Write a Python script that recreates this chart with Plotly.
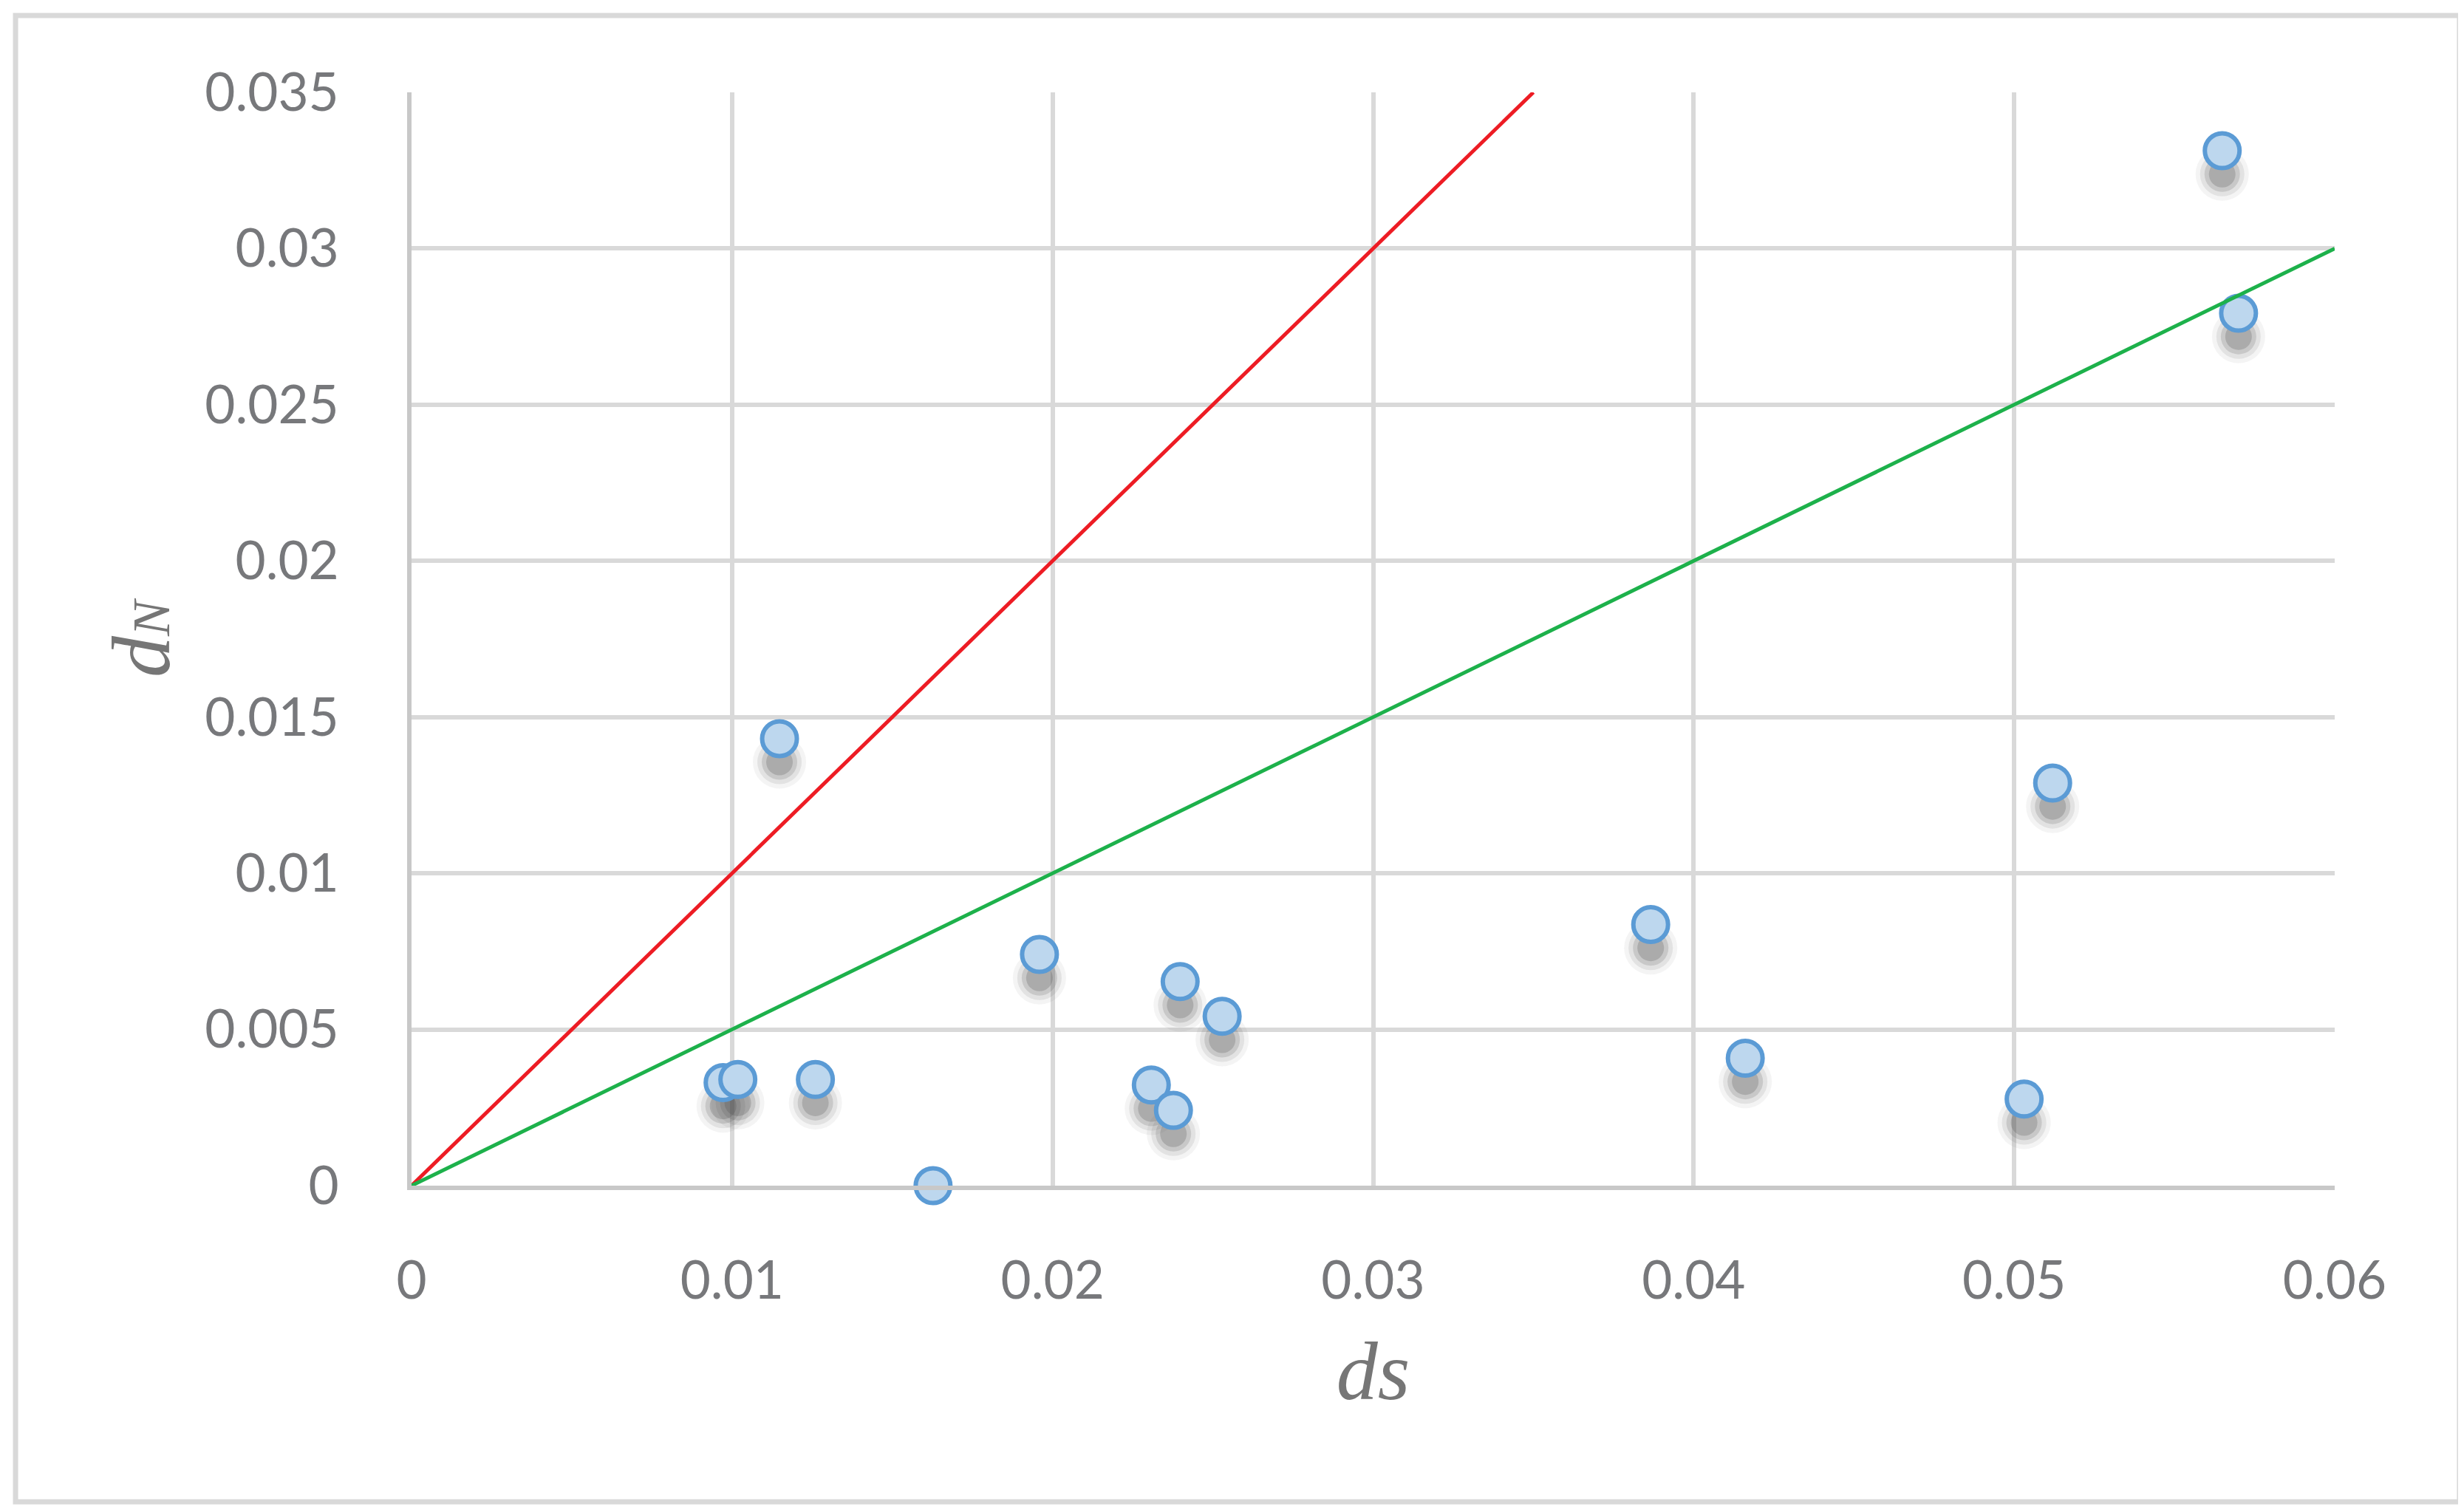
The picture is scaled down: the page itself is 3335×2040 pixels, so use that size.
import plotly.graph_objects as go

# dS / dN pairs
ds = [0.00972, 0.01018, 0.01148, 0.0126, 0.01627, 0.01959, 0.02308, 0.02377,
      0.02398, 0.02529, 0.03866, 0.04161, 0.05031, 0.0512, 0.05649, 0.0570]
dn = [0.0033, 0.0034, 0.01431, 0.0034, 0.0, 0.0074, 0.00322, 0.00241,
      0.00653, 0.00542, 0.00836, 0.00408, 0.00277, 0.01289, 0.03313, 0.02793]

# reference lines: dN/dS = 1 (red) and dN/dS = 0.5 (green)
red_x = [0, 0.035]
red_y = [0, 0.035]
green_x = [0, 0.06]
green_y = [0, 0.03]

x_ticks = [0, 0.01, 0.02, 0.03, 0.04, 0.05, 0.06]
x_labels = ["0", "0.01", "0.02", "0.03", "0.04", "0.05", "0.06"]
y_ticks = [0, 0.005, 0.01, 0.015, 0.02, 0.025, 0.03, 0.035]
y_labels = ["0", "0.005", "0.01", "0.015", "0.02", "0.025", "0.03", "0.035"]

tick_color = "#77787b"
grid = "#d9d9d9"
shadow_dy = 0.00075  # drop shadow offset, in data units

fig = go.Figure()

# soft drop shadow under each marker (stacked to fake a blur)
for sz, op in [(72, 0.06), (60, 0.1), (48, 0.16), (36, 0.22)]:
    fig.add_trace(go.Scatter(
        x=ds, y=[v - shadow_dy for v in dn], mode="markers",
        marker=dict(size=sz, color="#444444", opacity=op, line=dict(width=0)),
        cliponaxis=False, hoverinfo="skip", showlegend=False))

fig.add_trace(go.Scatter(
    x=ds, y=dn, mode="markers",
    marker=dict(size=47, color="#bdd7ee", opacity=1,
                line=dict(color="#5b9bd5", width=6)),
    cliponaxis=False, showlegend=False))

fig.add_trace(go.Scatter(x=red_x, y=red_y, mode="lines",
                         line=dict(color="#ed1c24", width=5), showlegend=False))
fig.add_trace(go.Scatter(x=green_x, y=green_y, mode="lines",
                         line=dict(color="#1db14b", width=5), showlegend=False))

fig.update_xaxes(
    range=[0, 0.06], tickvals=x_ticks, ticktext=x_labels,
    showgrid=True, gridcolor=grid, gridwidth=6, zeroline=False,
    showline=True, linecolor="#c8c8c8", linewidth=6,
    tickfont=dict(family="Lato", size=71, color=tick_color),
    ticklabelstandoff=62,
    title=dict(text="<i>ds</i>", standoff=45,
               font=dict(family="Liberation Serif", size=112, color="#767676")))
fig.update_yaxes(
    range=[0, 0.035], tickvals=y_ticks, ticktext=y_labels,
    showgrid=True, gridcolor=grid, gridwidth=6, zeroline=False,
    showline=True, linecolor="#c8c8c8", linewidth=6,
    tickfont=dict(family="Lato", size=71, color=tick_color),
    ticklabelstandoff=78,
    title=dict(text="<i>d<span style='font-size:72px'>N</span></i>", standoff=12,
               font=dict(family="Liberation Serif", size=112, color="#767676")))

# light outer frame round the whole chart
fig.add_shape(type="rect", xref="paper", yref="paper",
              x0=-0.2059, x1=1.0649, y0=-0.2892, y1=1.0703,
              line=dict(color=grid, width=7), layer="below")

fig.update_layout(
    width=3335, height=2040,
    margin=dict(l=549, r=183, t=117, b=443),
    plot_bgcolor="white", paper_bgcolor="white",
)

fig.write_html("out.html")
